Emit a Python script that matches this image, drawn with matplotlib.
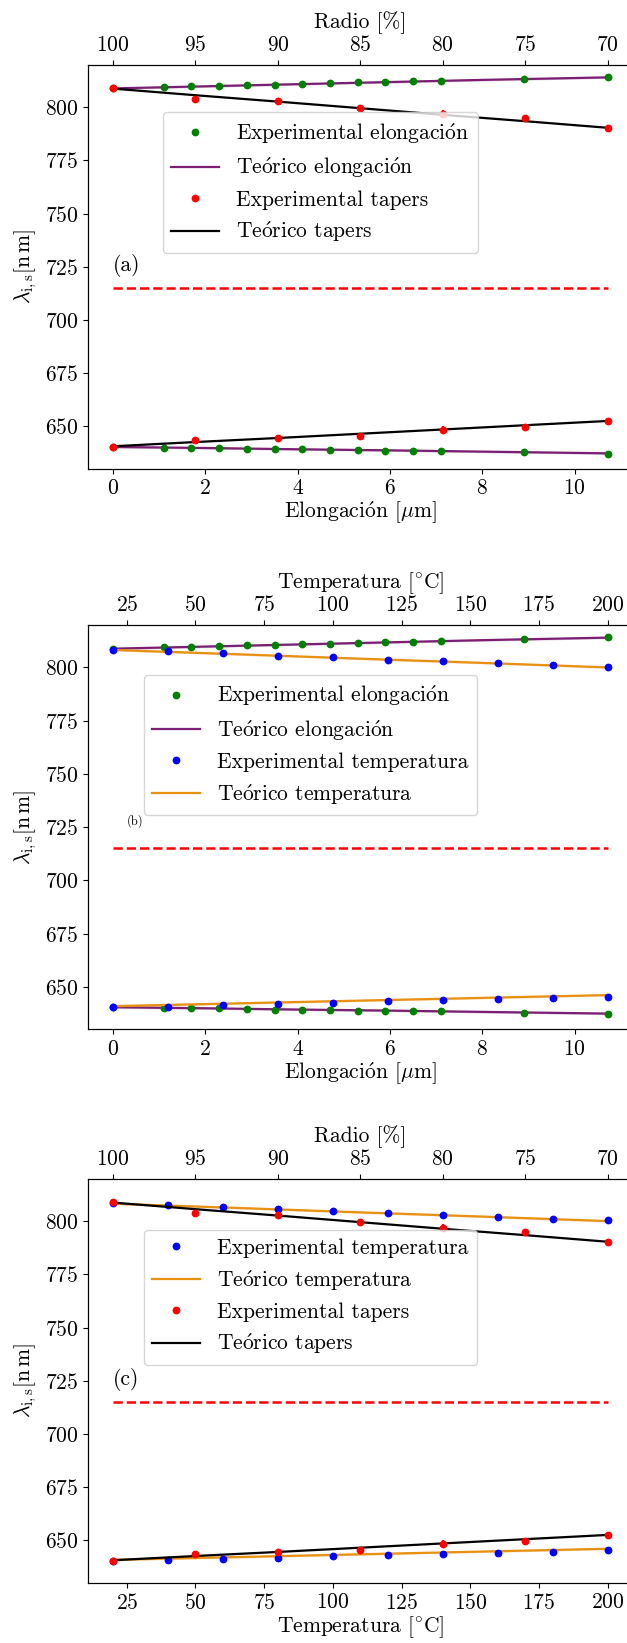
import matplotlib

matplotlib.use("Agg")
import matplotlib.pyplot as plt
import numpy as np

plt.rcParams["font.family"] = ["cmr10", "DejaVu Serif"]
plt.rcParams["mathtext.fontset"] = "cm"
plt.rcParams["axes.formatter.use_mathtext"] = True
plt.rcParams["font.size"] = 15.5

# Elongation series (signal / idler branches)
elong = [0.0, 1.1, 1.7, 2.3, 2.9, 3.5, 4.1, 4.7, 5.3, 5.9, 6.5, 7.1, 8.9, 10.72]
elong_upper = [808.8, 809.4, 809.7, 809.9, 810.3, 810.6, 811.0, 811.2, 811.6,
               811.8, 812.1, 812.3, 813.2, 814.1]
elong_lower = [640.3, 640.0, 640.0, 639.8, 639.5, 639.3, 639.2, 639.0, 638.8,
               638.7, 638.4, 638.4, 637.8, 637.2]
elong_theory_x = [0.0, 2.0, 4.0, 6.0, 8.0, 10.72]
elong_theory_upper = [808.8, 809.8, 810.8, 811.8, 812.8, 814.0]
elong_theory_lower = [640.4, 639.9, 639.3, 638.8, 638.2, 637.4]

# Taper series against radius
radio = [100, 95, 90, 85, 80, 75, 70]
taper_upper = [808.8, 803.8, 802.9, 799.6, 796.9, 794.7, 790.4]
taper_lower = [640.5, 643.8, 644.4, 645.4, 648.4, 649.9, 652.6]
taper_err = [0.6, 0.3, 0.6, 0.3, 1.6, 0.4, 0.3]
taper_theory_upper = [808.7, 805.6, 802.6, 799.5, 796.4, 793.4, 790.3]
taper_theory_lower = [640.7, 642.7, 644.6, 646.6, 648.6, 650.6, 652.6]

# Temperature series
temp = [20, 40, 60, 80, 100, 120, 140, 160, 180, 200]
temp_upper = [808.4, 807.6, 806.6, 805.5, 804.8, 803.6, 802.9, 801.9, 801.2, 800.4]
temp_lower = [640.4, 640.6, 641.2, 641.9, 642.5, 643.1, 643.7, 644.3, 644.7, 645.3]
temp_theory_x = [20, 65, 110, 155, 200]
temp_theory_upper = [808.2, 806.2, 804.1, 802.1, 800.0]
temp_theory_lower = [640.9, 642.2, 643.5, 644.8, 646.1]

pump_line = 715
y_ticks = [650, 675, 700, 725, 750, 775, 800]
radio_ticks = [100, 95, 90, 85, 80, 75, 70]
temp_ticks = [25, 50, 75, 100, 125, 150, 175, 200]

GREEN = "green"
PURPLE = "#7b1e74"
RED = "red"
BLUE = "blue"
ORANGE = "#e8900f"

ACUTE_O = "$\\mathrm{\\acute{o}}$"
ELONG_LABEL = "Elongaci" + ACUTE_O + "n [$\\mathrm{\\mu}$m]"
TEMP_LABEL = "Temperatura [$^{\\circ}$C]"
RADIO_LABEL = "Radio [%]"
YLABEL = r"$\lambda_{\mathrm{i,s}}[\mathrm{n\,m}]$"

LEFT = 0.1408
WIDTH = 0.868
HEIGHT = 0.2462


def padded(lo, hi):
    pad = 0.05 * (hi - lo)
    return lo - pad, hi + pad


def theory(ax, x, y, color):
    y = np.asarray(y)
    ax.fill_between(x, y - 0.5, y + 0.5, color=color, alpha=0.25, lw=0)
    (line,) = ax.plot(x, y, color=color, lw=1.6)
    return line


def points(ax, x, y, color):
    (pts,) = ax.plot(x, y, "o", color=color, ms=4.6, zorder=3)
    return pts


def pump(ax, x0, x1):
    ax.plot([x0, x1], [pump_line, pump_line], "--", color=RED, lw=1.8)


def tapers(ax):
    ax.errorbar(radio, taper_upper, yerr=taper_err, fmt="none", ecolor=RED, lw=1.6)
    ax.errorbar(radio, taper_lower, yerr=taper_err, fmt="none", ecolor=RED, lw=1.6)
    pts = points(ax, radio, taper_upper, RED)
    points(ax, radio, taper_lower, RED)
    line = ax.plot(radio, taper_theory_upper, color="black", lw=1.6)[0]
    ax.plot(radio, taper_theory_lower, color="black", lw=1.6)
    return pts, line


def elongation(ax):
    pts = points(ax, elong, elong_upper, GREEN)
    points(ax, elong, elong_lower, GREEN)
    line = theory(ax, elong_theory_x, elong_theory_upper, PURPLE)
    theory(ax, elong_theory_x, elong_theory_lower, PURPLE)
    return pts, line


def temperature(ax):
    pts = points(ax, temp, temp_upper, BLUE)
    points(ax, temp, temp_lower, BLUE)
    line = theory(ax, temp_theory_x, temp_theory_upper, ORANGE)
    theory(ax, temp_theory_x, temp_theory_lower, ORANGE)
    return pts, line


def setup(ax, top):
    ax.set_ylim(630, 820)
    ax.set_yticks(y_ticks)
    ax.set_ylabel(YLABEL, fontsize=15.5, labelpad=4)
    ax.spines["right"].set_visible(False)
    top.spines["right"].set_visible(False)


def legend(ax, handles, labels, anchor):
    leg = ax.legend(handles, labels, loc="upper left", bbox_to_anchor=anchor,
                    borderaxespad=0, fontsize=15.5, handlelength=2.2,
                    borderpad=0.4, labelspacing=0.45, handletextpad=0.8,
                    framealpha=0.8)
    leg.set_zorder(10)


fig = plt.figure(figsize=(6.27, 16.43), dpi=100)

# (a) elongation vs. taper radius
ax = fig.add_axes([LEFT, 0.7145, WIDTH, HEIGHT])
top = ax.twiny()
g_pts, g_line = elongation(ax)
r_pts, r_line = tapers(top)
pump(ax, elong[0], elong[-1])
ax.set_xlim(padded(elong[0], elong[-1]))
top.set_xlim(padded(radio[-1], radio[0])[::-1])
top.set_xticks(radio_ticks)
setup(ax, top)
ax.set_xlabel(ELONG_LABEL, labelpad=1)
top.set_xlabel(RADIO_LABEL, labelpad=5)
ax.text(0, 723, "(a)", fontsize=15.5)
legend(top, [g_pts, g_line, r_pts, r_line],
       ["Experimental elongaci" + ACUTE_O + "n",
        "Te" + ACUTE_O + "rico elongaci" + ACUTE_O + "n",
        "Experimental tapers", "Te" + ACUTE_O + "rico tapers"],
       (0.137, 0.882))

# (b) elongation vs. temperature
ax = fig.add_axes([LEFT, 0.3735, WIDTH, HEIGHT])
top = ax.twiny()
g_pts, g_line = elongation(ax)
b_pts, o_line = temperature(top)
pump(ax, elong[0], elong[-1])
ax.set_xlim(padded(elong[0], elong[-1]))
top.set_xlim(padded(temp[0], temp[-1]))
top.set_xticks(temp_ticks)
setup(ax, top)
ax.set_xlabel(ELONG_LABEL, labelpad=1)
top.set_xlabel(TEMP_LABEL, labelpad=5)
ax.text(0.3, 726, "(b)", fontsize=9)
legend(top, [g_pts, g_line, b_pts, o_line],
       ["Experimental elongaci" + ACUTE_O + "n",
        "Te" + ACUTE_O + "rico elongaci" + ACUTE_O + "n",
        "Experimental temperatura", "Te" + ACUTE_O + "rico temperatura"],
       (0.102, 0.877))

# (c) temperature vs. taper radius
ax = fig.add_axes([LEFT, 0.0365, WIDTH, HEIGHT])
top = ax.twiny()
b_pts, o_line = temperature(ax)
r_pts, r_line = tapers(top)
pump(ax, temp[0], temp[-1])
ax.set_xlim(padded(temp[0], temp[-1]))
ax.set_xticks(temp_ticks)
top.set_xlim(padded(radio[-1], radio[0])[::-1])
top.set_xticks(radio_ticks)
setup(ax, top)
ax.set_xlabel(TEMP_LABEL, labelpad=1)
top.set_xlabel(RADIO_LABEL, labelpad=5)
ax.text(20, 723, "(c)", fontsize=15.5)
legend(top, [b_pts, o_line, r_pts, r_line],
       ["Experimental temperatura", "Te" + ACUTE_O + "rico temperatura",
        "Experimental tapers", "Te" + ACUTE_O + "rico tapers"],
       (0.102, 0.873))

fig.savefig("out.png", dpi=100)
